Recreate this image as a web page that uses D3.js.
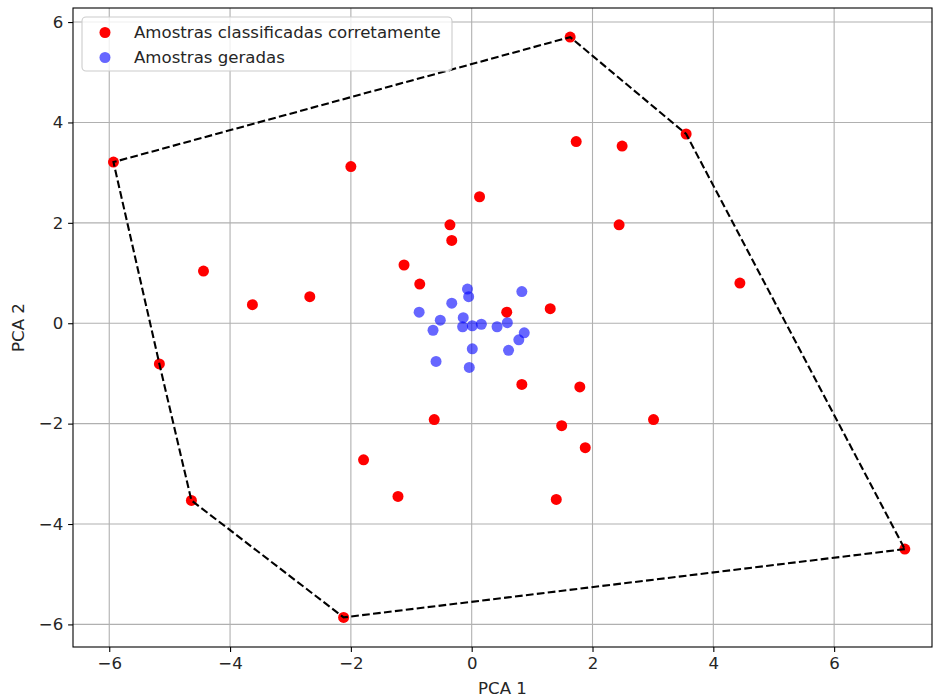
<!DOCTYPE html>
<html>
<head>
<meta charset="utf-8">
<script src="https://cdn.jsdelivr.net/npm/d3@7"></script>
<style>
  body { margin: 0; background: #fff; }
  svg { font-family: "DejaVu Sans", sans-serif; }
</style>
</head>
<body>
<svg id="chart"></svg>
<script>
// samples classified correctly (PCA 1, PCA 2)
let redX = [1.63, 3.55, 1.73, 2.49, -5.93, -2.00, 0.13, -0.36, -0.33, 2.44, -4.44, -1.12, -0.86, -3.63, -2.68, 0.58, 1.30, 4.44, -5.17, 0.83, 1.79, -0.62, 3.01, 1.49, 1.88, -1.79, -1.22, 1.40, -4.64, -2.12, 7.17]
let redY = [5.70, 3.77, 3.62, 3.53, 3.21, 3.12, 2.52, 1.96, 1.65, 1.96, 1.04, 1.16, 0.78, 0.37, 0.53, 0.22, 0.29, 0.80, -0.81, -1.22, -1.27, -1.92, -1.92, -2.04, -2.48, -2.72, -3.45, -3.51, -3.53, -5.86, -4.50]

// generated samples
let blueX = [-0.07, -0.05, 0.83, -0.33, -0.87, -0.52, -0.14, -0.64, -0.15, 0.01, 0.16, 0.42, 0.59, 0.87, 0.78, 0.61, 0.01, -0.59, -0.04]
let blueY = [0.68, 0.53, 0.63, 0.40, 0.22, 0.06, 0.11, -0.14, -0.07, -0.05, -0.02, -0.07, 0.01, -0.19, -0.33, -0.54, -0.51, -0.76, -0.88]

let xTicks = [-6, -4, -2, 0, 2, 4, 6]
let yTicks = [-6, -4, -2, 0, 2, 4, 6]
let legendLabels = ["Amostras classificadas corretamente", "Amostras geradas"]

let width = 933, height = 698
let margin = {left: 73, right: 1, top: 8, bottom: 51}
let fs = 16.6

let svg = d3.select("#chart").attr("width", width).attr("height", height)

let x = d3.scaleLinear().domain([-6.6, 7.62]).range([margin.left, width - margin.right])
let y = d3.scaleLinear().domain([-6.45, 6.28]).range([height - margin.bottom, margin.top])

let fmt = d => (d < 0 ? "\u2212" : "") + Math.abs(d)

// grid
svg.append("g").selectAll("line").data(xTicks).enter().append("line")
  .attr("x1", d => x(d)).attr("x2", d => x(d))
  .attr("y1", margin.top).attr("y2", height - margin.bottom)
  .attr("stroke", "#b0b0b0").attr("stroke-width", 1.1)
svg.append("g").selectAll("line").data(yTicks).enter().append("line")
  .attr("y1", d => y(d)).attr("y2", d => y(d))
  .attr("x1", margin.left).attr("x2", width - margin.right)
  .attr("stroke", "#b0b0b0").attr("stroke-width", 1.1)

// points
let red = redX.map((v, i) => [v, redY[i]])
let blue = blueX.map((v, i) => [v, blueY[i]])

svg.append("g").selectAll("circle").data(red).enter().append("circle")
  .attr("cx", d => x(d[0])).attr("cy", d => y(d[1])).attr("r", 5.5)
  .attr("fill", "red")

svg.append("g").selectAll("circle").data(blue).enter().append("circle")
  .attr("cx", d => x(d[0])).attr("cy", d => y(d[1])).attr("r", 5.5)
  .attr("fill", "blue").attr("fill-opacity", 0.6)

// convex hull
let hull = d3.polygonHull(red)
hull.push(hull[0])
svg.append("path")
  .attr("d", d3.line().x(d => x(d[0])).y(d => y(d[1]))(hull))
  .attr("fill", "none").attr("stroke", "black").attr("stroke-width", 2.1)
  .attr("stroke-dasharray", "7.7,3.3")

// axes
let xAxis = svg.append("g").attr("transform", `translate(0,${height - margin.bottom})`)
  .call(d3.axisBottom(x).tickValues(xTicks).tickFormat(fmt).tickSize(4.9).tickPadding(4.9))
let yAxis = svg.append("g").attr("transform", `translate(${margin.left},0)`)
  .call(d3.axisLeft(y).tickValues(yTicks).tickFormat(fmt).tickSize(4.9).tickPadding(4.9))
for (let a of [xAxis, yAxis]) {
  a.select(".domain").remove()
  a.selectAll("text").attr("font-size", fs).attr("fill", "#262626").attr("font-family", "DejaVu Sans")
  a.selectAll("line").attr("stroke", "black").attr("stroke-width", 1.1)
}

svg.append("rect")
  .attr("x", margin.left).attr("y", margin.top)
  .attr("width", width - margin.left - margin.right)
  .attr("height", height - margin.top - margin.bottom)
  .attr("fill", "none").attr("stroke", "black").attr("stroke-width", 1.1)

svg.append("text").attr("x", (margin.left + width - margin.right) / 2).attr("y", 694)
  .attr("text-anchor", "middle").attr("font-size", fs).attr("fill", "#262626").text("PCA 1")
svg.append("text").attr("transform", `translate(24,${(margin.top + height - margin.bottom) / 2}) rotate(-90)`)
  .attr("text-anchor", "middle").attr("font-size", fs).attr("fill", "#262626").text("PCA 2")

// legend
let lg = svg.append("g")
lg.append("rect").attr("x", 82).attr("y", 17).attr("width", 370).attr("height", 54).attr("rx", 4)
  .attr("fill", "white").attr("fill-opacity", 0.8).attr("stroke", "#cccccc").attr("stroke-width", 1.1)
let legendColors = ["red", "blue"]
let legendOpacity = [1, 0.6]
legendLabels.forEach((t, i) => {
  lg.append("circle").attr("cx", 105).attr("cy", 32.5 + i * 25).attr("r", 5.5)
    .attr("fill", legendColors[i]).attr("fill-opacity", legendOpacity[i])
  lg.append("text").attr("x", 134).attr("y", 38 + i * 25).attr("font-size", fs)
    .attr("fill", "#262626").text(t)
})
</script>
</body>
</html>
